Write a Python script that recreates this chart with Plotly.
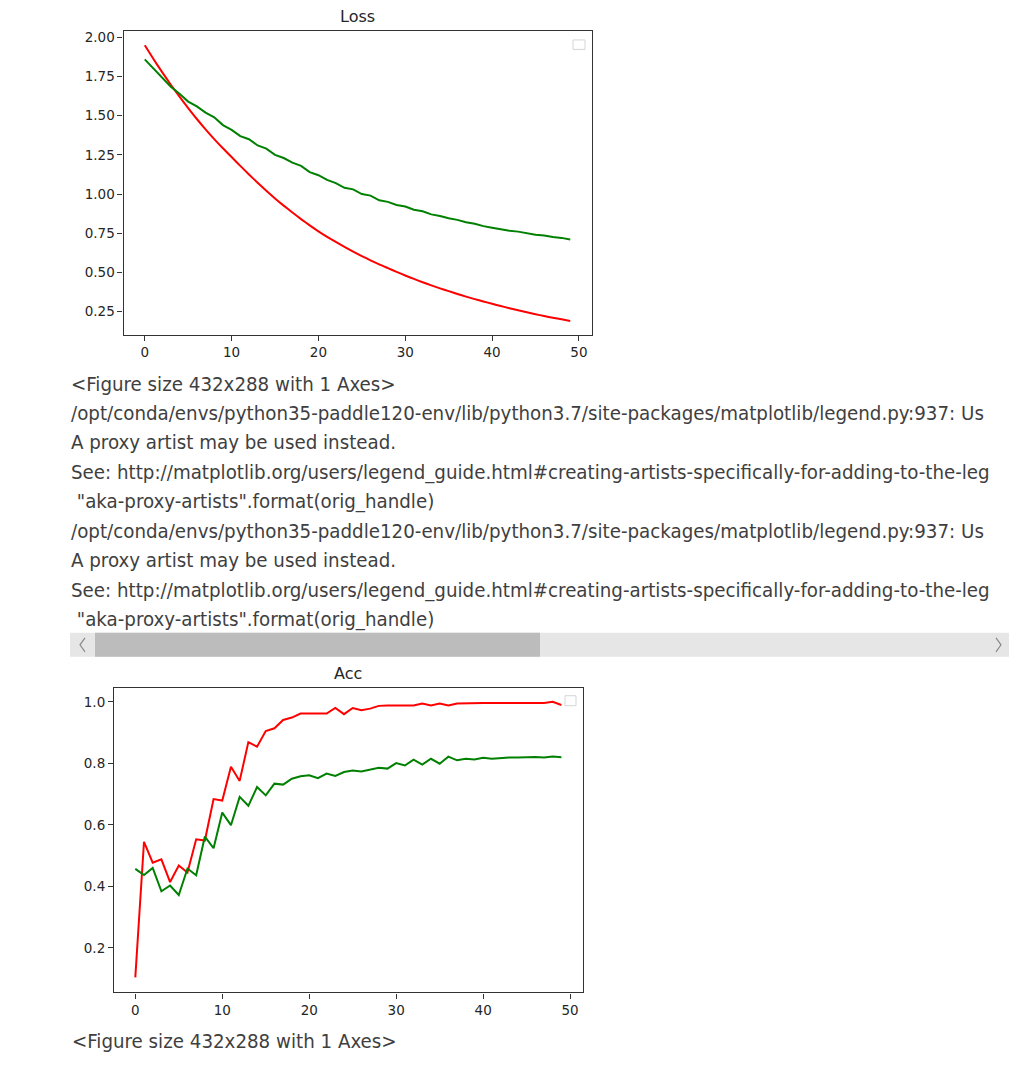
import plotly.graph_objects as go

W, H = 1029, 1086

epochs = list(range(50))

loss_train = [1.95, 1.862, 1.778, 1.698, 1.622, 1.549, 1.479, 1.413, 1.351, 1.292,
              1.236, 1.180, 1.125, 1.072, 1.021, 0.972, 0.926, 0.882, 0.840, 0.800,
              0.762, 0.727, 0.694, 0.662, 0.632, 0.604, 0.577, 0.551, 0.527, 0.503,
              0.48, 0.458, 0.437, 0.417, 0.398, 0.380, 0.362, 0.345, 0.329, 0.314,
              0.299, 0.285, 0.271, 0.258, 0.245, 0.233, 0.221, 0.210, 0.200, 0.19]
loss_val = [1.86, 1.80, 1.74, 1.685, 1.64, 1.59, 1.56, 1.52, 1.49, 1.44,
            1.41, 1.37, 1.35, 1.31, 1.29, 1.25, 1.23, 1.20, 1.18, 1.14,
            1.12, 1.09, 1.07, 1.04, 1.03, 1.00, 0.99, 0.96, 0.95, 0.93,
            0.92, 0.90, 0.89, 0.87, 0.86, 0.845, 0.835, 0.82, 0.81, 0.795,
            0.785, 0.775, 0.765, 0.76, 0.75, 0.74, 0.735, 0.725, 0.72, 0.71]

acc_train = [0.104, 0.545, 0.477, 0.488, 0.414, 0.468, 0.445, 0.553, 0.549, 0.684,
             0.679, 0.789, 0.743, 0.869, 0.854, 0.905, 0.914, 0.941, 0.949, 0.962,
             0.962, 0.962, 0.962, 0.98, 0.96, 0.98, 0.973, 0.978, 0.987, 0.988,
             0.988, 0.988, 0.988, 0.995, 0.988, 0.995, 0.988, 0.995, 0.996, 0.996,
             0.996, 0.996, 0.996, 0.996, 0.996, 0.996, 0.996, 0.996, 1.0, 0.99]
acc_val = [0.457, 0.437, 0.460, 0.384, 0.403, 0.372, 0.458, 0.436, 0.562, 0.524,
           0.640, 0.599, 0.691, 0.662, 0.723, 0.696, 0.734, 0.731, 0.750, 0.758,
           0.761, 0.752, 0.767, 0.759, 0.772, 0.777, 0.774, 0.780, 0.786, 0.783,
           0.801, 0.793, 0.812, 0.796, 0.815, 0.799, 0.822, 0.810, 0.815, 0.813,
           0.818, 0.815, 0.818, 0.819, 0.819, 0.821, 0.821, 0.819, 0.822, 0.820]

x_ticks = [0, 10, 20, 30, 40, 50]
loss_ticks = [0.25, 0.50, 0.75, 1.00, 1.25, 1.50, 1.75, 2.00]
acc_ticks = [0.2, 0.4, 0.6, 0.8, 1.0]

log_lines = [
    "<Figure size 432x288 with 1 Axes>",
    "/opt/conda/envs/python35-paddle120-env/lib/python3.7/site-packages/matplotlib/legend.py:937: Us",
    "A proxy artist may be used instead.",
    "See: http://matplotlib.org/users/legend_guide.html#creating-artists-specifically-for-adding-to-the-leg",
    " \"aka-proxy-artists\".format(orig_handle)",
    "/opt/conda/envs/python35-paddle120-env/lib/python3.7/site-packages/matplotlib/legend.py:937: Us",
    "A proxy artist may be used instead.",
    "See: http://matplotlib.org/users/legend_guide.html#creating-artists-specifically-for-adding-to-the-leg",
    " \"aka-proxy-artists\".format(orig_handle)",
]
final_line = "<Figure size 432x288 with 1 Axes>"


def px(x):
    return x / W


def py(y):
    return 1 - y / H


RED = "#ff0000"
GREEN = "#008000"
AX = "#333333"
TICKFONT = dict(family="DejaVu Sans", size=13.5, color="#262626")

fig = go.Figure()
fig.add_trace(go.Scatter(x=epochs, y=loss_train, mode="lines",
                         line=dict(color=RED, width=2, shape="spline", smoothing=0.6),
                         xaxis="x", yaxis="y", showlegend=False))
fig.add_trace(go.Scatter(x=epochs, y=loss_val, mode="lines", line=dict(color=GREEN, width=2),
                         xaxis="x", yaxis="y", showlegend=False))
fig.add_trace(go.Scatter(x=epochs, y=acc_train, mode="lines", line=dict(color=RED, width=2),
                         xaxis="x2", yaxis="y2", showlegend=False))
fig.add_trace(go.Scatter(x=epochs, y=acc_val, mode="lines", line=dict(color=GREEN, width=2),
                         xaxis="x2", yaxis="y2", showlegend=False))

axis_common = dict(showline=True, mirror=True, linecolor=AX, linewidth=1.1,
                   ticks="outside", ticklen=5, tickwidth=1.1, tickcolor=AX,
                   showgrid=False, zeroline=False, tickfont=TICKFONT)

fig.update_layout(
    width=W, height=H,
    margin=dict(l=0, r=0, t=0, b=0),
    paper_bgcolor="white", plot_bgcolor="white",
    xaxis=dict(domain=[px(123.5), px(591.5)], range=[-2.45, 51.45], anchor="y",
               tickvals=x_ticks, **axis_common),
    yaxis=dict(domain=[py(333.3), py(29.5)], range=[0.102, 2.038], anchor="x",
               tickvals=loss_ticks, tickformat=".2f", **axis_common),
    xaxis2=dict(domain=[px(114), px(582.7)], range=[-2.45, 51.45], anchor="y2",
                tickvals=x_ticks, **axis_common),
    yaxis2=dict(domain=[py(992.3), py(687.3)], range=[0.055, 1.045], anchor="x2",
                tickvals=acc_ticks, tickformat=".1f", **axis_common),
)

annotations = [
    dict(text="Loss", x=px(357.5), y=py(15), xref="paper", yref="paper",
         xanchor="center", yanchor="middle", showarrow=False,
         font=dict(family="DejaVu Sans", size=16, color="#262626")),
    dict(text="Acc", x=px(348.3), y=py(673), xref="paper", yref="paper",
         xanchor="center", yanchor="middle", showarrow=False,
         font=dict(family="DejaVu Sans", size=16, color="#262626")),
]

TEXTFONT = dict(family="Liberation Sans Narrow, DejaVu Sans Condensed, Open Sans", size=20.3, color="#3f3f3f")
line_y = [383, 412, 441, 471, 500, 530, 559, 589, 618]
for t, yy in zip(log_lines, line_y):
    annotations.append(dict(text=t.replace(" ", "&nbsp;", 1) if t.startswith(" ") else t,
                            x=px(69), y=py(yy), xref="paper", yref="paper",
                            xanchor="left", yanchor="middle", showarrow=False, font=TEXTFONT))
annotations.append(dict(text=final_line, x=px(70), y=py(1041), xref="paper", yref="paper",
                        xanchor="left", yanchor="middle", showarrow=False, font=TEXTFONT))
# mask clipping overflow of the long lines at the output area edge
annotations.append(dict(text="", x=px(1009), y=py(395), xref="paper", yref="paper",
                        xanchor="left", yanchor="top", showarrow=False, width=60, height=240,
                        bgcolor="white", borderpad=0))
fig.update_layout(annotations=annotations)

shapes = [
    # empty legend boxes
    dict(type="rect", xref="paper", yref="paper", x0=px(573), x1=px(585), y0=py(47.5), y1=py(38),
         line=dict(color="#d5d5d5", width=1), fillcolor="white"),
    dict(type="rect", xref="paper", yref="paper", x0=px(565), x1=px(576), y0=py(705), y1=py(695),
         line=dict(color="#d5d5d5", width=1), fillcolor="white"),
    # horizontal scrollbar
    dict(type="rect", xref="paper", yref="paper", x0=px(70), x1=px(1009), y0=py(656), y1=py(632),
         line=dict(width=0), fillcolor="#e6e6e6", layer="below"),
    dict(type="rect", xref="paper", yref="paper", x0=px(95), x1=px(540), y0=py(656), y1=py(632),
         line=dict(width=0), fillcolor="#bcbcbc", layer="below"),
    dict(type="path", xref="paper", yref="paper",
         path=f"M {px(85)} {py(637)} L {px(80)} {py(644)} L {px(85)} {py(651)}",
         line=dict(color="#8a8a8a", width=1.2)),
    dict(type="path", xref="paper", yref="paper",
         path=f"M {px(996)} {py(637)} L {px(1001)} {py(644)} L {px(996)} {py(651)}",
         line=dict(color="#8a8a8a", width=1.2)),
]
fig.update_layout(shapes=shapes)

fig.write_html("out.html", config={"displayModeBar": False},
               post_script="document.body.style.margin='0';document.body.style.overflow='hidden';")
